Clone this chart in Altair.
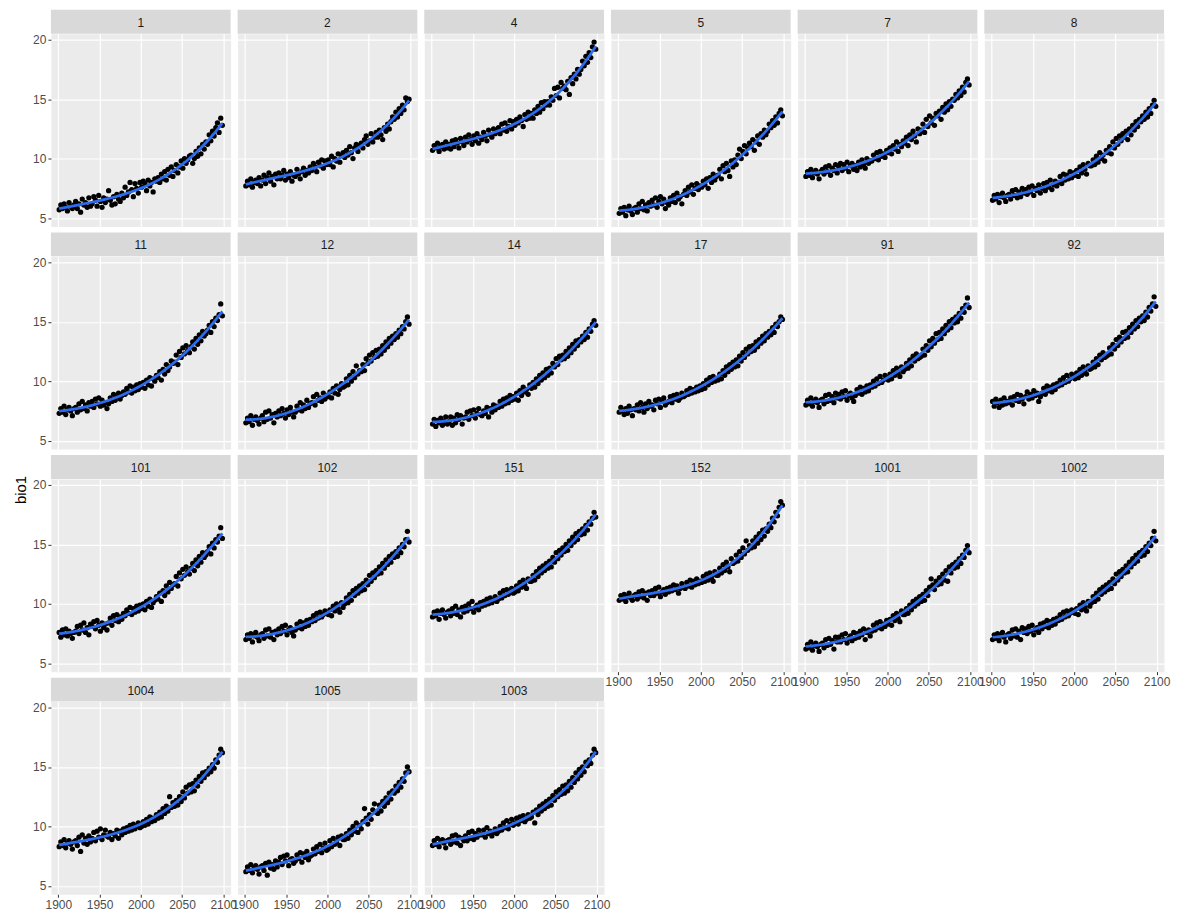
import altair as alt
import pandas as pd

years = list(range(1901, 2100, 2))

p1 = [5.7,6.1,5.8,6.2,5.9,5.6,6.3,6.0,5.8,6.1,
      6.4,5.8,6.2,5.5,6.6,6.1,6.3,5.9,6.7,6.0,
      6.2,6.8,6.5,6.0,6.9,6.4,5.9,6.7,6.3,6.6,
      7.3,6.5,6.1,6.8,6.2,7.0,6.6,6.4,7.1,6.7,
      7.6,6.9,7.2,8.0,7.4,6.8,7.9,7.5,7.1,8.0,
      7.6,8.1,7.9,7.3,8.2,7.7,8.0,7.2,8.3,8.1,
      8.4,8.0,8.7,8.3,8.9,8.2,9.1,8.6,9.3,8.5,
      9.0,9.5,8.8,9.3,9.8,9.2,10.0,9.6,9.9,10.2,
      10.3,9.6,10.0,10.6,10.2,10.9,10.4,11.2,10.8,11.4,
      11.2,12.0,11.5,12.3,11.9,12.6,13.0,12.2,13.4,12.8]
p2 = [7.7,8.1,7.8,8.3,7.6,8.0,8.2,7.9,8.4,7.7,
      8.2,8.6,7.9,8.4,8.8,8.1,8.5,7.8,8.7,8.3,
      8.8,8.3,8.6,9.0,8.2,8.7,8.4,8.9,8.1,8.6,
      8.5,9.1,8.7,8.3,8.9,9.2,8.6,9.0,8.8,9.3,
      9.0,9.6,9.3,8.9,9.7,9.4,9.9,9.2,9.8,9.5,
      9.9,9.5,10.2,9.3,10.0,9.8,10.4,9.7,10.3,10.5,
      10.1,10.7,10.3,11.0,10.5,10.0,10.9,11.2,10.6,11.1,
      11.3,10.9,11.6,11.9,11.2,11.5,12.1,11.4,11.8,12.2,
      11.8,12.4,12.0,11.6,12.6,12.3,12.9,12.5,13.1,13.5,
      13.3,13.9,13.5,14.2,13.8,14.5,14.1,15.1,14.8,15.0]
p4 = [10.7,11.1,10.9,11.3,10.6,11.0,11.2,10.8,11.4,10.9,
      11.2,10.8,11.5,11.0,11.6,11.3,10.9,11.7,11.4,11.1,
      11.8,11.4,12.0,11.6,11.2,11.9,11.5,12.1,11.3,11.8,
      11.6,12.2,11.9,11.5,12.4,12.0,11.8,12.5,12.1,12.3,
      12.6,12.1,12.9,12.4,13.0,12.3,12.7,13.2,12.5,13.1,
      12.8,13.3,13.0,13.5,13.2,12.7,13.7,13.3,13.9,13.4,
      13.8,13.4,14.1,13.8,14.4,13.9,14.7,14.2,14.8,14.5,
      14.8,14.5,15.2,14.9,15.9,15.3,16.0,15.1,16.4,15.9,
      16.1,15.8,16.5,15.4,16.8,16.3,17.1,16.7,17.5,17.1,
      17.5,18.2,17.8,18.6,18.1,18.9,18.5,19.4,19.8,19.2]
p5 = [5.4,5.8,5.5,5.9,5.2,5.7,6.0,5.6,5.3,5.8,
      5.9,5.5,6.2,5.8,6.4,5.7,6.1,5.6,6.3,6.0,
      6.5,6.1,6.7,5.9,6.4,6.8,6.2,6.6,5.8,6.3,
      6.1,6.7,6.4,6.9,6.3,7.1,6.6,6.8,6.2,7.0,
      7.3,6.9,7.6,7.2,7.8,7.0,7.5,7.9,7.4,7.7,
      7.6,8.1,7.8,8.3,7.5,8.4,8.0,8.7,8.2,8.5,
      8.6,9.1,8.3,9.4,8.9,9.6,9.0,8.5,9.8,9.3,
      9.9,9.5,10.3,10.8,10.0,10.6,11.1,10.4,10.9,11.3,
      11.0,11.6,10.7,11.4,11.9,11.2,12.1,11.8,12.4,12.0,
      12.3,12.9,12.6,13.2,12.8,13.5,13.0,13.8,14.1,13.6]
p7 = [8.5,8.9,8.6,9.1,8.4,8.8,9.0,8.7,8.3,8.9,
      9.1,8.7,9.3,8.9,9.4,8.6,9.2,9.0,9.5,8.8,
      9.3,9.6,9.0,9.5,9.2,9.7,8.9,9.4,9.6,9.1,
      9.4,9.0,9.7,9.3,9.9,9.5,9.2,10.0,9.6,9.8,
      9.8,10.3,10.0,10.5,9.9,10.6,10.2,10.4,10.1,10.7,
      10.5,10.9,10.4,11.1,10.8,11.4,10.6,11.2,11.0,11.5,
      11.3,11.8,11.1,12.0,11.6,12.3,11.9,11.4,12.5,12.1,
      12.4,12.9,12.2,13.3,12.7,13.6,13.0,13.4,12.8,13.8,
      13.6,14.0,13.3,14.3,13.9,14.6,14.1,14.8,14.4,15.0,
      14.9,15.4,15.1,15.7,15.3,16.0,15.6,16.4,16.7,16.2]
p8 = [6.5,6.9,6.6,7.0,6.3,6.8,7.1,6.7,6.4,6.9,
      7.0,6.6,7.3,6.9,7.4,6.7,7.2,6.8,7.5,7.1,
      7.4,7.0,7.6,7.2,7.7,6.9,7.5,7.3,7.8,7.1,
      7.5,7.9,7.3,8.0,7.6,8.2,7.4,7.8,8.1,7.7,
      8.0,8.5,7.9,8.7,8.2,8.6,8.3,8.9,8.4,8.8,
      8.6,9.0,8.5,9.3,8.8,9.5,9.1,8.7,9.6,9.4,
      9.4,9.9,9.5,10.2,9.7,10.5,10.0,10.3,9.8,10.7,
      10.5,11.0,10.4,11.4,10.9,11.7,11.2,11.9,11.5,12.1,
      11.8,12.3,11.6,12.5,12.0,12.8,12.4,13.1,12.7,13.3,
      13.1,13.6,13.3,13.9,13.5,14.2,13.8,14.5,14.9,14.4]
p11 = [7.3,7.7,7.4,7.9,7.2,7.6,7.8,7.5,7.1,7.7,
       7.8,7.4,8.1,7.6,8.3,7.7,8.0,7.5,8.2,7.9,
       8.3,7.8,8.5,8.1,8.6,7.9,8.4,8.0,8.2,7.7,
       8.1,8.6,8.3,8.9,8.4,8.7,9.0,8.5,8.8,9.1,
       8.9,9.4,9.1,9.6,9.0,9.5,9.2,9.7,9.3,9.8,
       9.5,9.9,9.4,10.1,9.7,10.3,9.6,10.2,10.0,10.5,
       10.3,10.8,10.1,11.0,10.6,11.4,10.9,11.2,11.7,11.5,
       11.6,12.2,11.4,12.5,12.0,12.8,12.3,13.0,12.6,12.4,
       12.9,13.3,12.7,13.6,13.1,13.9,13.4,14.2,13.8,14.0,
       14.3,14.7,14.1,15.0,14.6,15.3,15.1,15.6,16.5,15.5]
p12 = [6.5,6.9,6.6,7.1,6.3,6.8,7.0,6.7,6.4,6.9,
       7.1,6.6,7.4,6.8,7.5,6.9,7.2,6.5,7.3,7.0,
       7.5,7.1,7.7,7.3,6.9,7.6,7.2,7.8,7.4,7.0,
       7.4,7.9,7.6,8.2,7.5,8.0,7.7,8.4,7.8,8.1,
       8.2,8.7,8.0,8.9,8.4,8.6,8.3,9.0,8.5,8.8,
       8.7,9.1,8.6,9.4,9.0,9.6,8.9,9.3,9.8,9.5,
       9.6,10.2,9.7,10.5,10.0,10.8,10.3,11.3,10.6,10.9,
       10.8,11.4,10.9,11.9,11.5,12.2,11.7,12.4,12.0,12.6,
       12.1,12.7,12.3,13.0,12.6,13.3,12.9,13.6,13.2,13.8,
       13.5,14.0,13.7,14.3,14.0,14.6,14.4,15.0,15.4,14.8]
p14 = [6.4,6.8,6.2,6.7,6.5,6.9,6.3,6.6,7.0,6.4,
       6.6,7.0,6.3,6.9,6.5,7.2,6.8,7.1,6.4,6.9,
       7.0,7.4,6.8,7.5,7.1,7.6,6.9,7.3,7.7,7.2,
       7.1,7.5,7.3,7.8,7.0,7.7,7.4,8.0,7.6,7.9,
       7.8,8.3,7.9,8.5,8.1,8.6,8.2,8.8,8.4,8.7,
       8.5,9.0,8.4,9.2,8.8,9.5,9.1,9.3,8.9,9.7,
       9.4,9.9,9.5,10.2,9.8,10.5,10.1,10.7,10.3,11.0,
       10.5,11.1,10.7,11.5,11.2,11.9,11.4,12.1,11.8,12.2,
       11.9,12.5,12.1,12.8,12.4,13.1,12.7,13.4,13.0,13.5,
       13.3,13.8,13.5,14.1,13.7,14.4,14.2,14.8,15.1,14.7]
p17 = [7.4,7.8,7.5,7.2,7.7,7.3,7.9,7.6,7.1,7.7,
       7.6,8.0,7.5,8.2,7.8,7.4,8.1,7.7,8.3,7.9,
       8.0,7.6,8.4,8.1,8.5,7.8,8.3,8.6,8.0,8.2,
       8.3,8.7,8.2,8.8,8.5,8.9,8.4,8.6,9.0,8.7,
       8.8,9.2,8.9,9.4,9.0,9.3,9.1,9.5,9.2,9.6,
       9.3,9.8,9.4,10.1,9.7,10.3,9.9,10.4,10.0,10.2,
       10.1,10.6,10.2,10.9,10.5,11.2,10.8,11.4,11.0,11.6,
       11.2,11.8,11.3,12.1,11.7,12.4,12.0,12.7,12.3,12.9,
       12.5,13.0,12.6,13.3,12.9,13.5,13.2,13.8,13.4,14.0,
       13.7,14.2,13.9,14.5,14.1,14.8,14.6,15.0,15.4,15.2]
p91 = [8.0,8.4,8.1,8.6,7.9,8.3,8.5,8.2,7.8,8.4,
       8.5,8.1,8.8,8.3,8.9,8.4,8.7,8.2,9.0,8.6,
       8.9,8.5,9.1,8.7,9.2,8.4,8.8,9.0,8.6,8.3,
       8.8,9.3,9.0,9.5,8.9,9.4,9.1,9.6,9.2,9.7,
       9.5,10.0,9.6,10.2,9.8,10.4,9.9,10.1,10.5,10.3,
       10.1,10.6,10.2,10.9,10.5,11.1,10.7,10.4,11.2,10.8,
       11.0,11.5,11.1,11.8,11.3,12.1,11.7,12.3,11.9,12.0,
       12.1,12.7,12.2,13.0,12.6,13.4,12.9,13.6,13.2,14.0,
       13.5,14.1,13.6,14.4,14.0,14.7,14.3,15.0,14.5,15.2,
       14.9,15.4,15.0,15.7,15.3,16.1,15.8,16.4,17.0,16.2]
p92 = [8.3,7.9,8.5,8.2,7.8,8.4,8.0,8.6,8.1,8.3,
       8.2,8.6,8.0,8.7,8.4,8.9,8.3,8.8,8.5,8.1,
       8.7,9.1,8.5,8.9,8.6,9.2,8.8,9.0,8.3,8.7,
       9.0,9.4,8.9,9.6,9.2,9.5,9.1,9.7,9.3,9.8,
       9.6,10.1,9.7,10.3,9.9,10.5,10.0,10.2,10.6,10.4,
       10.2,10.7,10.3,11.0,10.5,11.2,10.8,10.6,11.3,11.0,
       11.1,11.6,11.2,11.9,11.4,12.2,11.8,12.4,12.0,12.1,
       12.2,12.8,12.3,13.1,12.7,13.5,13.0,13.7,13.3,14.1,
       13.6,14.2,13.7,14.5,14.1,14.8,14.4,15.1,14.6,15.3,
       15.0,15.5,15.1,15.8,15.4,16.2,15.9,16.5,17.1,16.3]
p101 = [7.6,7.2,7.8,7.4,7.9,7.3,7.7,7.5,7.1,7.6,
        7.7,8.1,7.5,8.2,7.8,8.4,7.6,8.0,7.4,8.3,
        8.1,8.5,7.9,8.6,8.2,7.7,8.4,8.0,8.3,7.8,
        8.4,8.8,8.2,9.0,8.6,9.1,8.5,8.9,8.7,9.2,
        9.0,9.5,9.2,9.7,9.1,9.6,9.3,9.8,9.4,9.9,
        9.6,10.0,9.5,10.2,9.8,10.4,9.7,10.1,10.3,10.6,
        10.4,10.9,10.2,11.1,10.7,11.5,11.0,11.8,11.3,11.6,
        11.7,12.3,11.5,12.6,12.1,12.9,12.4,13.1,12.7,12.5,
        13.0,13.4,12.8,13.7,13.2,14.0,13.5,14.3,13.9,14.1,
        14.4,14.8,14.2,15.1,14.7,15.4,15.2,15.7,16.4,15.5]
p102 = [7.0,7.4,7.1,7.5,6.8,7.3,7.6,7.2,6.9,7.4,
        7.5,7.1,7.8,7.3,7.9,7.2,7.6,7.0,7.7,7.4,
        7.9,7.5,8.1,7.7,8.2,7.4,7.8,8.0,7.6,7.3,
        7.8,8.3,8.0,8.5,7.9,8.4,8.1,8.6,8.2,8.7,
        8.5,9.0,8.6,9.2,8.8,9.3,8.9,9.1,9.4,9.2,
        9.1,9.5,9.0,9.8,9.4,10.0,9.6,9.3,10.1,9.7,
        10.0,10.5,10.1,10.8,10.3,11.1,10.7,11.3,10.9,11.5,
        11.1,11.7,11.2,12.0,11.6,12.4,11.9,12.6,12.2,12.8,
        12.5,13.1,12.6,13.4,13.0,13.7,13.3,14.0,13.5,14.2,
        13.9,14.4,14.0,14.7,14.3,15.0,14.8,15.4,16.1,15.2]
p151 = [8.9,9.3,9.0,9.4,8.7,9.2,9.5,9.1,8.8,9.3,
        9.4,9.0,9.6,9.2,9.8,9.1,9.5,8.9,9.7,9.3,
        9.8,9.4,10.0,9.6,10.2,9.3,9.7,9.9,9.5,10.1,
        9.8,10.2,9.9,10.4,10.0,10.5,10.1,10.3,10.6,10.2,
        10.4,10.9,10.5,11.1,10.7,11.2,10.8,11.0,11.3,10.9,
        11.0,11.5,11.1,11.8,11.4,12.0,11.6,11.3,12.1,11.9,
        11.9,12.4,12.0,12.7,12.3,13.0,12.6,13.2,12.8,13.4,
        13.0,13.6,13.1,13.9,13.5,14.3,13.8,14.5,14.1,14.7,
        14.4,15.0,14.5,15.3,14.9,15.6,15.2,15.9,15.4,16.1,
        15.8,16.3,15.9,16.6,16.2,16.9,16.7,17.2,17.7,17.3]
p152 = [10.3,10.7,10.4,10.8,10.2,10.6,10.9,10.5,10.3,10.7,
        10.8,10.4,11.0,10.6,11.1,10.5,10.9,10.3,11.0,10.7,
        11.1,10.7,11.3,10.9,11.4,10.6,11.0,11.2,10.8,11.3,
        11.0,11.4,11.1,11.6,11.2,11.5,10.9,11.3,11.7,11.4,
        11.3,11.8,11.5,12.0,11.4,11.9,11.6,12.1,11.7,11.9,
        11.8,12.3,11.9,12.5,12.0,12.6,12.2,11.9,12.7,12.4,
        12.4,13.0,12.6,13.3,12.8,13.5,13.1,12.7,13.8,13.4,
        13.5,14.1,13.6,14.4,13.9,14.7,14.2,15.3,14.5,14.9,
        14.7,15.3,14.8,15.6,15.1,15.9,15.4,16.2,15.7,16.3,
        16.1,16.7,16.4,17.2,16.9,17.7,17.4,18.1,18.6,18.3]
p1001 = [6.2,6.6,6.3,6.8,6.1,6.5,6.7,6.4,6.0,6.6,
         6.7,6.3,7.0,6.5,7.1,6.6,6.9,6.2,7.2,6.8,
         7.2,6.8,7.4,7.0,7.5,6.7,7.1,7.3,6.9,7.6,
         7.1,7.5,7.2,7.7,7.4,7.9,7.0,7.6,7.8,7.3,
         7.7,8.2,7.8,8.4,8.0,8.5,7.9,8.3,8.1,8.6,
         8.3,8.7,8.2,9.0,8.6,9.2,8.8,8.5,9.4,9.1,
         9.1,9.6,9.2,9.9,9.5,10.2,9.8,10.4,10.0,10.6,
         10.2,10.8,10.3,11.1,10.7,11.4,12.1,11.6,11.2,11.9,
         11.6,12.2,11.7,12.5,12.0,12.8,11.9,13.1,12.6,13.3,
         13.0,13.5,13.1,13.8,13.4,14.1,13.9,14.5,14.9,14.3]
p1002 = [7.0,7.4,7.1,7.5,6.9,7.3,7.6,7.2,6.8,7.4,
         7.5,7.1,7.8,7.3,7.9,7.2,7.7,7.0,8.0,7.6,
         7.9,7.5,8.1,7.7,8.2,7.4,7.8,8.0,7.6,8.3,
         7.9,8.4,8.1,8.6,8.0,8.5,8.2,8.7,8.3,8.8,
         8.6,9.1,8.7,9.3,8.9,9.4,9.0,9.2,9.5,9.3,
         9.2,9.6,9.1,9.9,9.5,10.1,9.7,9.4,10.2,9.8,
         10.1,10.6,10.2,10.9,10.4,11.2,10.8,11.4,11.0,11.6,
         11.2,11.8,11.3,12.1,11.7,12.5,12.0,12.7,12.3,12.9,
         12.6,13.2,12.7,13.5,13.1,13.8,13.4,14.1,13.6,14.3,
         14.0,14.5,14.1,14.8,14.4,15.1,14.9,15.5,16.1,15.3]
p1004 = [8.3,8.7,8.4,8.9,8.2,8.6,8.8,8.5,8.1,8.7,
         8.8,8.4,9.1,7.9,9.3,8.6,9.0,8.5,9.2,8.7,
         9.0,9.5,8.8,9.6,9.1,9.8,8.9,9.3,9.7,9.2,
         9.1,9.5,8.9,9.4,9.2,9.7,9.0,9.6,9.3,9.8,
         9.5,9.9,9.6,10.1,9.7,10.2,9.8,10.0,10.3,9.9,
         10.0,10.4,10.1,10.6,10.2,10.8,10.4,10.7,10.5,11.0,
         10.7,11.2,10.8,11.5,11.1,11.7,11.3,12.5,11.6,12.0,
         11.7,12.2,11.8,12.5,12.1,12.9,12.4,13.3,12.8,13.5,
         12.9,13.6,13.0,13.9,13.4,14.2,13.8,14.5,14.1,14.6,
         14.4,14.9,14.6,15.2,14.9,15.6,15.4,16.0,16.5,16.2]
p1005 = [6.2,6.6,6.3,6.8,6.1,6.5,6.7,6.4,6.0,6.6,
         6.7,6.3,6.9,5.9,7.0,6.5,6.8,6.4,7.1,6.6,
         7.0,7.4,6.8,7.5,7.1,7.6,6.7,7.2,7.3,6.9,
         7.1,7.6,7.3,7.8,7.0,7.7,7.4,7.9,7.2,7.5,
         7.6,8.1,7.7,8.3,7.9,8.5,7.8,8.2,8.6,8.0,
         8.1,8.8,8.3,9.0,8.5,8.7,9.1,8.4,9.2,8.9,
         8.9,9.4,9.0,9.7,9.3,10.0,9.6,10.3,9.5,10.1,
         9.8,10.4,11.5,10.7,10.2,11.0,10.6,11.4,11.9,11.2,
         11.1,11.8,11.3,12.1,11.7,12.4,12.0,12.8,12.3,13.0,
         12.8,13.4,13.0,13.7,13.3,14.0,13.8,14.5,15.0,14.6]
p1003 = [8.4,8.8,8.5,9.0,8.3,8.7,8.9,8.6,8.2,8.8,
         8.9,8.5,9.2,8.7,9.3,8.6,9.1,8.4,9.0,8.8,
         9.2,8.8,9.5,9.0,9.6,8.9,9.4,9.1,9.7,9.3,
         9.3,9.7,9.1,9.9,9.4,9.6,9.2,9.5,9.8,9.4,
         9.6,10.0,9.7,10.3,9.9,10.5,9.8,10.2,10.6,10.1,
         10.3,10.7,10.2,10.8,10.5,10.9,10.4,10.6,11.0,10.7,
         10.8,11.2,10.3,11.4,11.0,11.7,11.3,11.9,11.5,12.1,
         11.7,12.3,11.8,12.6,12.2,12.9,12.5,13.1,12.7,13.4,
         12.8,13.5,13.0,13.8,13.3,14.1,13.7,14.5,14.0,14.8,
         14.3,15.0,14.6,15.4,15.1,15.6,15.3,16.0,16.5,16.2]

panel_order = ["1", "2", "4", "5", "7", "8",
               "11", "12", "14", "17", "91", "92",
               "101", "102", "151", "152", "1001", "1002",
               "1004", "1005", "1003"]
panel_values = [p1, p2, p4, p5, p7, p8,
                p11, p12, p14, p17, p91, p92,
                p101, p102, p151, p152, p1001, p1002,
                p1004, p1005, p1003]

x_ticks = [1900, 1925, 1950, 1975, 2000, 2025, 2050, 2075, 2100]
y_ticks = [5, 7.5, 10, 12.5, 15, 17.5, 20]

rows = []
for lab, vals in zip(panel_order, panel_values):
    for yr, v in zip(years, vals):
        rows.append({"panel": lab, "year": yr, "bio1": v})
df = pd.DataFrame(rows)

W, H = 180, 193
STRIP = 24
NCOL = 6

xs = alt.Scale(domain=[1891, 2109], nice=False, zero=False)
ys = alt.Scale(domain=[4.3, 20.5], nice=False, zero=False)


def make_axis(vals, step, show):
    test = f"datum.value % {step} === 0"
    return alt.Axis(
        values=vals, format="d",
        labels=show, ticks=show,
        labelExpr=f"{test} ? datum.label : ''",
        gridWidth={"condition": {"test": test, "value": 1.2}, "value": 0.6},
        tickOpacity={"condition": {"test": test, "value": 1}, "value": 0},
        title=None, labelFlush=False, labelOverlap=False,
    )


def panel(lab, show_x, show_y):
    strip = alt.Chart().transform_aggregate(
        n="count()", groupby=["panel"]
    ).mark_rect(color="#D9D9D9").encode(
        x=alt.value(0), x2=alt.value(W), y=alt.value(-STRIP), y2=alt.value(0)
    )
    strip_text = alt.Chart().transform_aggregate(
        n="count()", groupby=["panel"]
    ).mark_text(fontSize=12, font="Liberation Sans", color="#1A1A1A",
                baseline="middle", align="center").encode(
        x=alt.value(W / 2), y=alt.value(-STRIP / 2 + 1), text="panel:N"
    )
    pts = alt.Chart().mark_circle(size=28, color="black", opacity=1).encode(
        x=alt.X("year:Q", scale=xs, axis=make_axis(x_ticks, 50, show_x)),
        y=alt.Y("bio1:Q", scale=ys, axis=make_axis(y_ticks, 5, show_y)),
    )
    line = alt.Chart().transform_regression(
        "year", "bio1", method="poly", order=3, groupby=["panel"]
    ).mark_line(color="#2B6BEE", strokeWidth=2.7).encode(
        x=alt.X("year:Q", scale=xs),
        y=alt.Y("bio1:Q", scale=ys),
    )
    return alt.layer(strip, strip_text, pts, line, data=df).transform_filter(
        alt.datum.panel == lab
    ).properties(width=W, height=H)


n = len(panel_order)
cells = [panel(panel_order[i], i + NCOL >= n, i % NCOL == 0) for i in range(n)]
grid = alt.concat(*cells, columns=NCOL, spacing={"row": STRIP + 6, "column": 7},
                  bounds="flush")

ylab = alt.Chart(pd.DataFrame({"t": ["bio1"]})).mark_text(
    angle=270, fontSize=15, font="Liberation Sans", color="black",
    baseline="middle", align="center"
).encode(
    text="t:N", x=alt.value(12), y=alt.value(457)
).properties(width=20, height=880,
             view=alt.ViewBackground(fill="transparent", stroke="transparent"))

chart = alt.hconcat(ylab, grid, spacing=2).properties(
    padding=0
).configure_view(
    fill="#EBEBEB", stroke="transparent"
).configure_axis(
    labelFont="Liberation Sans", labelFontSize=12, labelColor="#4D4D4D",
    tickColor="#333333", tickSize=3, tickWidth=1, labelPadding=2,
    gridColor="white", domain=False,
)

chart.save("out.html", embed_options={"renderer": "svg", "actions": False})
